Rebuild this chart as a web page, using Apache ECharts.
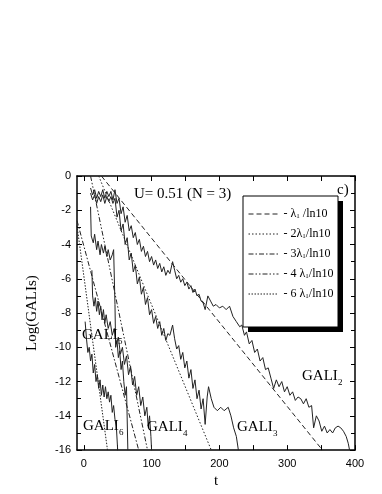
<!DOCTYPE html>
<html>
<head>
<meta charset="utf-8">
<script src="https://cdn.jsdelivr.net/npm/echarts@6/dist/echarts.min.js"></script>
<style>
  html, body { margin: 0; padding: 0; background: #fff; }
  #chart { width: 382px; height: 494px; }
</style>
</head>
<body>
<div id="chart"></div>
<script>
// axis ticks
var xLabels = [0, 100, 200, 300, 400];
var xTicks = [0, 50, 100, 150, 200, 250, 300, 350, 400];

// reference slopes (t, log10 GALI)
var lam1 = [[26, 0], [352, -16]];
var lam2 = [[22, 0], [188, -16]];
var lam3 = [[-10, -2.6], [81, -16]];
var lam4 = [[10, 0], [94, -16]];
var lam6 = [[-10, -2.9], [35, -16]];

// GALI curves
var gali2 = [[10,-0.7],[13,-1.1],[16,-0.8],[19,-1.3],[22,-0.9],[25,-1.2],[28,-0.8],[31,-1.3],[34,-0.9],[37,-1.2],[40,-0.9],[43,-1.4],[46,-0.8],[49,-1.6],[52,-1.3],[55,-2.2],[58,-1.8],[61,-2.7],[64,-2.3],[67,-3.2],[70,-2.9],[73,-3.6],[76,-3.3],[79,-4.0],[82,-3.7],[85,-4.4],[88,-4.1],[91,-4.7],[94,-4.4],[97,-5.0],[100,-4.7],[103,-5.2],[106,-4.9],[109,-5.4],[112,-5.1],[115,-5.6],[118,-5.3],[121,-5.8],[124,-5.5],[127,-5.7],[131,-5.0],[134,-5.5],[137,-6.0],[140,-5.8],[143,-6.2],[146,-6.0],[149,-6.4],[152,-6.2],[155,-6.6],[158,-6.4],[161,-6.8],[164,-6.6],[167,-7.0],[170,-6.9],[173,-7.3],[176,-7.4],[179,-7.8],[183,-7.0],[187,-7.3],[191,-7.6],[195,-7.5],[200,-7.7],[205,-7.6],[210,-7.8],[215,-7.6],[220,-8.2],[225,-8.5],[230,-8.8],[233,-8.7],[237,-9.3],[240,-9.1],[244,-9.8],[248,-9.6],[252,-10.3],[256,-10.1],[260,-10.8],[264,-10.6],[268,-11.3],[272,-11.2],[276,-11.8],[280,-12.4],[284,-11.9],[288,-12.3],[292,-12.0],[296,-12.6],[300,-12.3],[304,-12.8],[308,-12.6],[312,-13.1],[316,-12.9],[320,-13.0],[324,-13.3],[328,-13.0],[332,-13.5],[336,-13.4],[339,-14.7],[343,-14.0],[347,-14.3],[351,-14.9],[355,-14.6],[359,-15.0],[363,-14.8],[367,-15.0],[371,-14.7],[375,-14.6],[379,-14.7],[383,-14.9],[387,-15.2],[390,-15.6],[392,-16.0]];
var gali3 = [[10,-1.0],[13,-1.4],[16,-1.1],[19,-1.6],[22,-1.2],[25,-1.5],[28,-1.1],[31,-1.6],[34,-1.2],[37,-1.5],[40,-1.2],[43,-1.6],[46,-1.3],[49,-2.4],[52,-2.0],[55,-3.2],[58,-2.8],[61,-4.0],[64,-3.6],[67,-4.9],[70,-4.5],[73,-5.6],[76,-5.2],[79,-6.3],[82,-5.9],[85,-6.9],[88,-6.5],[91,-7.5],[94,-7.1],[97,-8.1],[100,-7.8],[103,-8.6],[106,-8.2],[109,-8.9],[112,-8.5],[115,-9.3],[118,-8.9],[121,-9.6],[124,-9.2],[127,-9.3],[131,-8.7],[134,-9.5],[137,-10.1],[140,-9.9],[143,-10.7],[146,-10.3],[149,-11.2],[152,-10.8],[155,-11.8],[158,-11.3],[161,-12.4],[164,-11.9],[167,-13.0],[170,-12.5],[173,-13.6],[176,-13.0],[179,-14.5],[182,-12.9],[184,-12.3],[188,-13.0],[192,-13.5],[197,-13.7],[202,-13.5],[207,-13.7],[213,-13.5],[217,-14.0],[221,-14.7],[225,-15.2],[228,-16]];
var gali4 = [[10,-1.8],[11,-3.5],[14,-3.9],[16,-3.4],[19,-4.3],[21,-3.8],[24,-4.6],[26,-4.0],[29,-4.5],[31,-4.1],[34,-4.7],[36,-4.3],[39,-4.9],[42,-4.6],[44,-4.3],[46,-7.5],[47,-10.0],[49,-9.6],[51,-10.6],[53,-10.2],[55,-11.3],[57,-10.8],[59,-12.0],[61,-12.8],[63,-12.3],[65,-16]];
var gali5 = [[12,-5.5],[13,-7.0],[15,-7.6],[17,-7.1],[19,-7.9],[21,-7.3],[23,-8.1],[25,-7.6],[27,-8.4],[29,-7.8],[31,-8.6],[33,-8.1],[36,-8.9],[39,-8.5],[42,-9.3],[45,-8.9],[48,-9.8],[51,-9.4],[54,-10.4],[57,-10.0],[60,-11.0],[63,-10.5],[66,-11.6],[69,-11.1],[72,-12.2],[75,-11.7],[78,-12.8],[81,-12.3],[84,-13.4],[87,-12.9],[90,-14.0],[93,-13.5],[95,-14.6],[97,-14.0],[99,-15.2],[100,-16]];
var gali6 = [[2,-8.5],[4,-9.5],[6,-10.3],[8,-10.0],[10,-10.8],[12,-10.4],[14,-11.5],[16,-11.0],[18,-12.0],[20,-11.6],[22,-12.4],[24,-11.9],[26,-12.8],[28,-12.2],[30,-12.9],[32,-12.3],[34,-13.0],[36,-12.6],[38,-13.2],[40,-12.8],[42,-13.8],[44,-13.4],[46,-14.2],[48,-14.6],[50,-16]];

var serif = "'Liberation Serif', 'DejaVu Serif', serif";
var sans = "'Liberation Sans', Arial, sans-serif";

// legend texts
var legendText = {
  l1: "- \u03bb{s|1} /ln10",
  l2: "- 2\u03bb{s|1}/ln10",
  l3: "- 3\u03bb{s|1}/ln10",
  l4: "- 4 \u03bb{s|1}/ln10",
  l6: "- 6 \u03bb{s|1}/ln10"
};

function curve(data) {
  return {
    type: "line", data: data, symbol: "none", silent: true,
    lineStyle: { color: "#222", width: 1 }
  };
}
function refLine(name, data, dash) {
  return {
    type: "line", name: name, data: data, symbol: "none", silent: true,
    itemStyle: { color: "#222" },
    lineStyle: { color: "#222", width: 1, type: dash }
  };
}

// labels on the plot, main text + subscript
function label(x, y, sub) {
  return [
    { type: "text", x: x, y: y, z: 10,
      style: { text: "GALI", font: "15px " + serif, fill: "#000", verticalAlign: "middle" } },
    { type: "text", x: x + 36, y: y + 7, z: 10,
      style: { text: sub, font: "9px " + serif, fill: "#000", verticalAlign: "middle" } }
  ];
}

var tickStyle = { color: "#000", width: 1 };
var axLine = { show: true, onZero: false, lineStyle: { color: "#000", width: 1.5 } };

var option = {
  animation: false,
  backgroundColor: "#fff",
  grid: { left: 77, right: 27, top: 176, bottom: 42 },
  title: {
    text: "U= 0.51 (N = 3)", left: 129, top: 182,
    textStyle: { fontFamily: serif, fontSize: 15, fontWeight: "normal", color: "#000" }
  },
  legend: {
    orient: "vertical", left: 243, top: 197, z: 20,
    padding: [11, 6, 27, 5],
    itemWidth: 30, itemHeight: 14, itemGap: 8,
    data: ["l1", "l2", "l3", "l4", "l6"],
    itemStyle: { opacity: 0 },
    lineStyle: { width: 1 },
    formatter: function (n) { return legendText[n]; },
    textStyle: {
      fontFamily: serif, fontSize: 12, color: "#000",
      rich: { s: { fontFamily: serif, fontSize: 7, verticalAlign: "bottom", lineHeight: 10 } }
    },
    selectedMode: false
  },
  xAxis: [
    {
      type: "value", min: -10, max: 400, position: "bottom",
      axisLine: axLine,
      axisTick: { inside: true, length: 5, customValues: xTicks, lineStyle: tickStyle },
      axisLabel: { customValues: xLabels, color: "#000", fontSize: 11, fontFamily: sans, margin: 8 },
      splitLine: { show: false },
      name: "t", nameLocation: "middle", nameGap: 18,
      nameTextStyle: { fontFamily: serif, fontSize: 15, color: "#000" }
    },
    {
      type: "value", min: -10, max: 400, position: "top",
      axisLine: axLine,
      axisTick: { inside: true, length: 5, customValues: xTicks, lineStyle: tickStyle },
      axisLabel: { show: false },
      splitLine: { show: false }
    }
  ],
  yAxis: [
    {
      type: "value", min: -16, max: 0, interval: 2, position: "left",
      axisLine: axLine,
      axisTick: { inside: true, length: 5, lineStyle: tickStyle },
      minorTick: { show: true, splitNumber: 2, length: 4, lineStyle: tickStyle },
      axisLabel: { color: "#000", fontSize: 11, fontFamily: sans, margin: 6 },
      splitLine: { show: false },
      name: "Log(GALIs)", nameLocation: "middle", nameGap: 37,
      nameTextStyle: { fontFamily: serif, fontSize: 15, color: "#000" }
    },
    {
      type: "value", min: -16, max: 0, interval: 2, position: "right",
      axisLine: axLine,
      axisTick: { inside: true, length: 5, lineStyle: tickStyle },
      minorTick: { show: true, splitNumber: 2, length: 4, lineStyle: tickStyle },
      axisLabel: { show: false },
      splitLine: { show: false }
    }
  ],
  graphic: [
    // legend box with black shadow
    { type: "rect", z: 15, shape: { x: 248, y: 201, width: 95, height: 131 }, style: { fill: "#000" } },
    { type: "rect", z: 16, shape: { x: 243, y: 196, width: 95, height: 131 },
      style: { fill: "#fff", stroke: "#000", lineWidth: 1 } },
    { type: "text", x: 337, y: 190, z: 10,
      style: { text: "c)", font: "15px " + serif, fill: "#000", verticalAlign: "middle" } }
  ]
    .concat(label(302, 376, "2"))
    .concat(label(237, 427, "3"))
    .concat(label(147, 427, "4"))
    .concat(label(82, 335, "5"))
    .concat(label(83, 426, "6")),
  series: [
    refLine("l1", lam1, [5, 3]),
    refLine("l2", lam2, [1.5, 2]),
    refLine("l3", lam3, [5, 2, 1.5, 2]),
    refLine("l4", lam4, [5, 2, 1.5, 2, 1.5, 2]),
    refLine("l6", lam6, [1.5, 1.5]),
    curve(gali2),
    curve(gali3),
    curve(gali4),
    curve(gali5),
    curve(gali6)
  ]
};

var chart = echarts.init(document.getElementById("chart"));
chart.setOption(option);
</script>
</body>
</html>
